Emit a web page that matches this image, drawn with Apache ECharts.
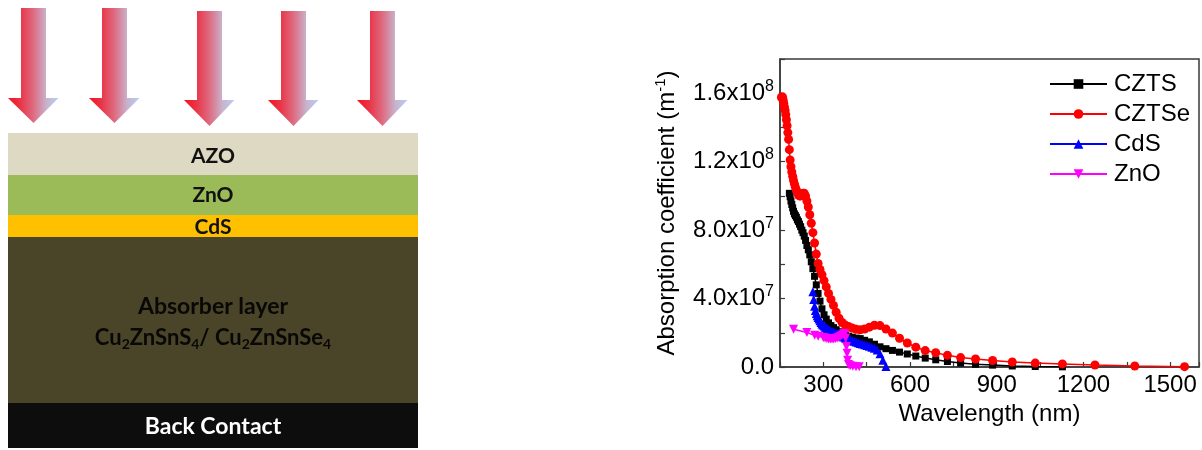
<!DOCTYPE html>
<html>
<head>
<meta charset="utf-8">
<script src="https://cdn.jsdelivr.net/npm/echarts@6/dist/echarts.min.js"></script>
<style>
  html, body { margin: 0; padding: 0; background: #fff; }
  #chart { width: 1202px; height: 450px; }
</style>
</head>
<body>
<div id="chart"></div>
<script>
// Absorption coefficient spectra, values in units of 10^7 m^-1
const UNIT = 1e7;

const cztseWavelength = [155.0,157.0,159.0,161.0,163.2,165.3,167.6,169.9,172.2,174.6,177.1,179.7,182.4,185.1,187.9,190.8,193.8,196.8,200.0,203.3,206.7,210.2,213.8,217.5,221.4,225.5,229.6,234.0,238.5,243.1,248.0,253.1,258.3,263.8,269.6,275.6,281.8,288.4,295.2,302.4,310.0,317.9,326.3,335.1,344.4,354.3,364.7,375.8,387.5,400.0,413.3,427.6,442.9,459.3,476.9,496.0,516.7,539.1,563.6,590.5,620.0,652.6,688.9,729.4,775.0,826.7,885.7,953.8,1033.3,1127.3,1240.0,1377.8,1550.0];
const cztseAlpha = [15.75,15.8,15.75,15.6,15.4,15.2,15.0,14.75,14.45,14.1,13.7,13.3,12.7,12.1,11.7,11.4,11.15,10.9,10.7,10.5,10.35,10.2,10.05,10.0,10.0,10.05,10.15,10.15,10.0,9.7,9.35,8.9,8.4,7.85,7.25,6.6,6.05,5.7,5.4,5.05,4.68,4.3,3.95,3.6,3.2,2.85,2.6,2.45,2.36,2.28,2.2,2.17,2.22,2.33,2.44,2.42,2.22,1.98,1.68,1.40,1.16,0.96,0.83,0.68,0.55,0.47,0.38,0.29,0.23,0.18,0.12,0.06,0.02];

const cztsWavelength = [182.4,185.1,187.9,190.8,193.8,196.8,200.0,203.3,206.7,210.2,213.8,217.5,221.4,225.5,229.6,234.0,238.5,243.1,248.0,253.1,258.3,263.8,269.6,275.6,281.8,288.4,295.2,302.4,310.0,317.9,326.3,335.1,344.4,354.3,364.7,375.8,387.5,400.0,413.3,427.6,442.9,459.3,476.9,496.0,516.7,539.1,563.6,590.5,620.0,652.6,688.9,729.4,775.0,826.7,885.7,953.8,1033.3,1127.3];
const cztsAlpha = [10.15,9.95,9.7,9.5,9.3,9.1,8.95,8.85,8.75,8.6,8.5,8.35,8.2,8.0,7.85,7.65,7.4,7.1,6.85,6.55,6.15,5.75,5.3,4.8,4.3,3.85,3.4,3.05,2.8,2.58,2.42,2.3,2.18,2.06,1.96,1.88,1.8,1.74,1.69,1.66,1.56,1.47,1.33,1.18,1.07,0.97,0.87,0.76,0.64,0.52,0.42,0.32,0.23,0.16,0.11,0.06,0.03,0.01];

const cdsWavelength = [263.8,266.7,269.6,272.5,275.6,278.7,281.8,285.1,288.4,291.8,295.2,298.8,302.4,306.2,310.0,313.9,317.9,322.1,326.3,330.7,335.1,339.7,344.4,349.3,354.3,359.4,364.7,370.1,375.8,381.5,387.5,393.7,400.0,406.6,413.3,420.3,427.6,435.1,442.9,450.9,459.3,467.9,476.9,486.3,496.0,506.1,516.7];
const cdsAlpha = [4.4,3.95,3.55,3.3,3.12,3.0,2.9,2.8,2.7,2.6,2.52,2.45,2.39,2.33,2.28,2.23,2.19,2.15,2.11,2.07,2.04,2.0,1.97,1.93,1.89,1.85,1.8,1.75,1.7,1.66,1.62,1.58,1.54,1.5,1.46,1.42,1.38,1.34,1.3,1.26,1.21,1.16,1.1,1.0,0.78,0.4,0.03];

const znoWavelength = [197,243,270,282,300,306,312,318,324,330,336,342,348,354,360,365,370,374,377,380,382,384,387,393,402,413,424];
const znoAlpha = [2.2,2.02,1.86,1.8,1.72,1.69,1.66,1.64,1.63,1.63,1.64,1.66,1.7,1.74,1.8,1.87,1.94,1.96,1.7,1.2,0.8,0.4,0.15,0.07,0.04,0.02,0.01];

const seriesNames = ['CZTS', 'CZTSe', 'CdS', 'ZnO'];
const xTickLabels = [300, 600, 900, 1200, 1500];

// Device stack (top to bottom)
const layerNames = ['AZO', 'ZnO', 'CdS', 'Absorber layer', 'Back Contact'];

const FONT = '"Liberation Sans", Arial, sans-serif';
const DIAGRAM_FONT = 'Lato, "Open Sans", sans-serif';
const AXIS_COLOR = '#3a3a3a';

function toPairs(xs, ys) {
  return xs.map((x, i) => [x, ys[i] * UNIT]);
}

function yLabel(v) {
  const k = Math.round(v / UNIT);
  if (k % 4 !== 0 || k > 16) return '';
  if (k === 0) return '{m|0.0}';
  const e = Math.floor(Math.log10(v) + 1e-9);
  const mant = (v / Math.pow(10, e)).toFixed(1);
  return '{m|' + mant + 'x10}{e|' + e + '}';
}

// Arrows of incoming light
const arrowLeft = [21, 102, 197, 281, 370];
const arrowTop = [8, 8, 11, 11, 11];
const arrowHead = [98, 98, 100, 100, 100];
const arrowTip = [123, 123, 126, 126, 126];
const SHAFT = 25;

const arrowFill = {
  type: 'linear', x: 0, y: 0, x2: 1, y2: 0,
  colorStops: [
    { offset: 0, color: '#f5101c' },
    { offset: 0.26, color: '#e8384a' },
    { offset: 0.5, color: '#de6a80' },
    { offset: 0.76, color: '#c9b2cc' },
    { offset: 1, color: '#b8d0f4' }
  ]
};

const graphics = [];
arrowLeft.forEach((xl, i) => {
  graphics.push({
    type: 'polygon',
    shape: {
      points: [
        [xl, arrowTop[i]], [xl + SHAFT, arrowTop[i]], [xl + SHAFT, arrowHead[i]],
        [xl + SHAFT + 12.5, arrowHead[i]], [xl + SHAFT / 2, arrowTip[i]],
        [xl - 13, arrowHead[i]], [xl, arrowHead[i]]
      ]
    },
    style: { fill: arrowFill }
  });
});

const layerRects = [
  { y: 133, h: 42, color: '#ddd9c3' },
  { y: 175, h: 40, color: '#9bbb59' },
  { y: 215, h: 22, color: '#ffc000' },
  { y: 237, h: 166, color: '#4a4429' },
  { y: 403, h: 45, color: '#0d0d0d' }
];
layerRects.forEach(r => {
  graphics.push({
    type: 'rect',
    shape: { x: 8, y: r.y, width: 410, height: r.h },
    style: { fill: r.color }
  });
});

function layerText(text, y, fill, size) {
  return {
    type: 'text',
    x: 213, y: y,
    style: {
      text: text,
      fill: fill || '#111',
      fontFamily: DIAGRAM_FONT,
      fontWeight: 'bold',
      fontSize: size || 21,
      align: 'center',
      verticalAlign: 'middle'
    }
  };
}

graphics.push(layerText(layerNames[0], 156));
graphics.push(layerText(layerNames[1], 195));
graphics.push(layerText(layerNames[2], 227));
graphics.push(layerText(layerNames[3], 307, '#080806', 23));
graphics.push({
  type: 'text',
  x: 213, y: 338,
  style: {
    text: '{t|Cu}{s|2}{t|ZnSnS}{s|4}{t|/ Cu}{s|2}{t|ZnSnSe}{s|4}',
    align: 'center',
    verticalAlign: 'middle',
    rich: {
      t: { fontFamily: DIAGRAM_FONT, fontSize: 22, fontWeight: 'bold', fill: '#080806', lineHeight: 26 },
      s: { fontFamily: DIAGRAM_FONT, fontSize: 14, fontWeight: 'bold', fill: '#080806', verticalAlign: 'bottom', lineHeight: 14 }
    }
  }
});
graphics.push(layerText(layerNames[4], 427, '#ffffff', 23));

const seriesStyle = [
  { data: toPairs(cztsWavelength, cztsAlpha), color: '#000000', symbol: 'rect', size: 7, rotate: 0 },
  { data: toPairs(cztseWavelength, cztseAlpha), color: '#ff0000', symbol: 'circle', size: 9, rotate: 0 },
  { data: toPairs(cdsWavelength, cdsAlpha), color: '#0000ff', symbol: 'triangle', size: 9, rotate: 0 },
  { data: toPairs(znoWavelength, znoAlpha), color: '#ff00ff', symbol: 'triangle', size: 9, rotate: 180 }
];

const chart = echarts.init(document.getElementById('chart'), null, { renderer: 'canvas' });

chart.setOption({
  animation: false,
  backgroundColor: '#ffffff',
  grid: {
    left: 780, top: 59, width: 419, height: 308,
    show: true, borderColor: AXIS_COLOR, borderWidth: 1.5,
    backgroundColor: 'transparent'
  },
  xAxis: {
    type: 'value',
    min: 150, max: 1600, interval: 150,
    name: 'Wavelength (nm)',
    nameLocation: 'middle',
    nameGap: 33,
    nameTextStyle: { fontFamily: FONT, fontSize: 24, color: '#000' },
    axisLine: { show: true, lineStyle: { color: AXIS_COLOR, width: 1.5 } },
    axisTick: { show: true, inside: true, length: 5, lineStyle: { color: AXIS_COLOR, width: 1.2 } },
    axisLabel: {
      fontFamily: FONT, fontSize: 24, color: '#000', margin: 6,
      showMinLabel: true, showMaxLabel: true, hideOverlap: false,
      formatter: v => (xTickLabels.indexOf(Math.round(v)) >= 0 ? String(Math.round(v)) : '')
    },
    splitLine: { show: false }
  },
  yAxis: {
    type: 'value',
    min: 0, max: 18 * UNIT, interval: 2 * UNIT,
    name: '{a|Absorption coefficient (m}{e|-1}{a|)}',
    nameLocation: 'middle',
    nameGap: 99,
    nameRotate: 90,
    nameTextStyle: {
      rich: {
        a: { fontFamily: FONT, fontSize: 24, color: '#000', lineHeight: 28 },
        e: { fontFamily: FONT, fontSize: 15, color: '#000', verticalAlign: 'top', lineHeight: 14 }
      }
    },
    axisLine: { show: true, lineStyle: { color: AXIS_COLOR, width: 1.5 } },
    axisTick: { show: true, inside: true, length: 5, lineStyle: { color: AXIS_COLOR, width: 1.2 } },
    axisLabel: {
      margin: 6, showMinLabel: true, showMaxLabel: true, hideOverlap: false,
      formatter: yLabel,
      rich: {
        m: { fontFamily: FONT, fontSize: 24, color: '#000', lineHeight: 30 },
        e: { fontFamily: FONT, fontSize: 16, color: '#000', verticalAlign: 'top', lineHeight: 14 }
      }
    },
    splitLine: { show: false }
  },
  legend: {
    orient: 'vertical',
    left: 1044, top: 67,
    itemWidth: 57, itemHeight: 12, itemGap: 6,
    textStyle: { fontFamily: FONT, fontSize: 24, color: '#000', lineHeight: 24, padding: [0, 0, 0, 2] },
    data: seriesNames
  },
  series: seriesStyle.map((s, i) => ({
    name: seriesNames[i],
    type: 'line',
    data: s.data,
    symbol: s.symbol,
    symbolSize: s.size,
    symbolRotate: s.rotate,
    showSymbol: true,
    lineStyle: { color: s.color, width: 1.5 },
    itemStyle: { color: s.color },
    emphasis: { disabled: true },
    z: 2 + i
  })),
  graphic: graphics
});
</script>
</body>
</html>
